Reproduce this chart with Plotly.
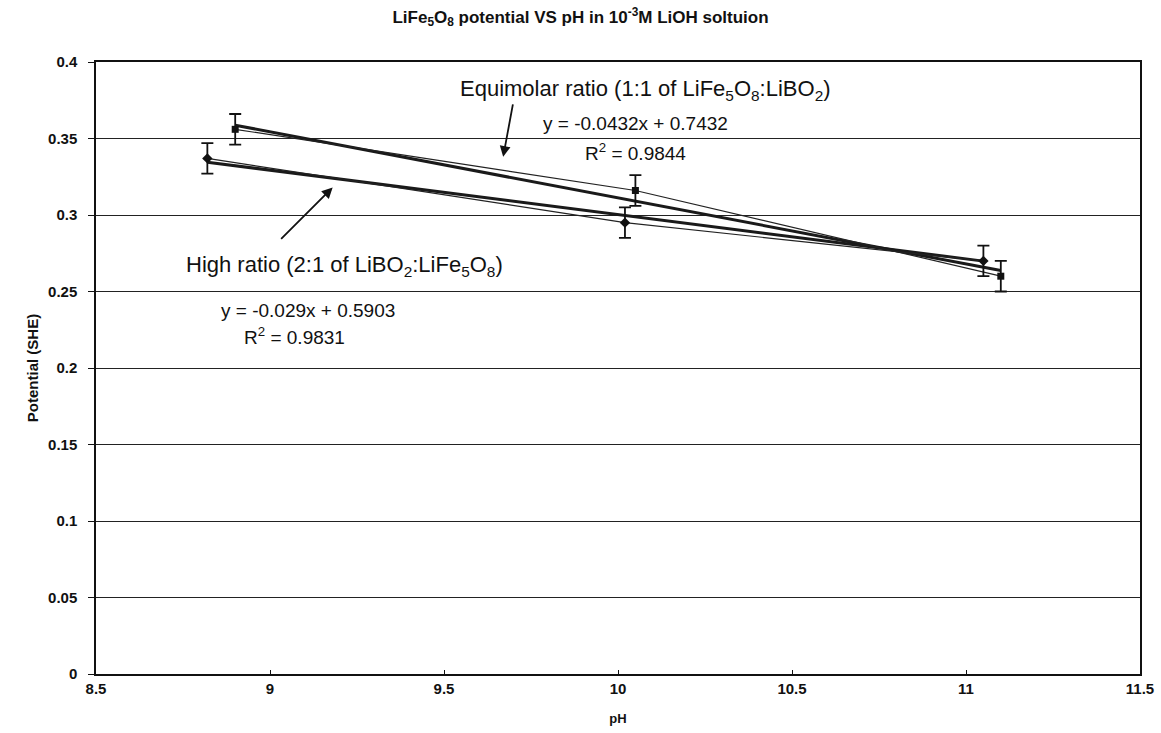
import numpy as np
import plotly.graph_objects as go

# ---- data ----
ph_equi = [8.9, 10.05, 11.1]
pot_equi = [0.356, 0.316, 0.260]
err_equi = [0.010, 0.010, 0.010]

ph_high = [8.82, 10.02, 11.05]
pot_high = [0.337, 0.295, 0.270]
err_high = [0.010, 0.010, 0.010]

fit_equi = [-0.0432, 0.7432]   # slope, intercept
fit_high = [-0.029, 0.5903]
r2_equi = 0.9844
r2_high = 0.9831

x_ticks = [8.5, 9, 9.5, 10, 10.5, 11, 11.5]
y_ticks = [0, 0.05, 0.1, 0.15, 0.2, 0.25, 0.3, 0.35, 0.4]

FONT = "Liberation Sans, Arial, sans-serif"

fig = go.Figure()

def trend(xs, coef):
    xx = np.array([min(xs), max(xs)])
    return xx, coef[0] * xx + coef[1]

# trendlines (thick)
for xs, coef in [(ph_equi, fit_equi), (ph_high, fit_high)]:
    tx, ty = trend(xs, coef)
    fig.add_trace(go.Scatter(x=tx, y=ty, mode="lines",
                             line=dict(color="#1a1a1a", width=3),
                             showlegend=False, hoverinfo="skip"))

# data series (thin line + markers + error bars)
fig.add_trace(go.Scatter(
    x=ph_equi, y=pot_equi, mode="lines+markers", name="Equimolar",
    line=dict(color="#222222", width=1.2),
    marker=dict(symbol="square", size=7, color="#111111"),
    error_y=dict(type="data", array=err_equi, visible=True,
                 color="#111111", thickness=1.8, width=6),
    showlegend=False))
fig.add_trace(go.Scatter(
    x=ph_high, y=pot_high, mode="lines+markers", name="High ratio",
    line=dict(color="#222222", width=1.2),
    marker=dict(symbol="diamond", size=8, color="#111111"),
    error_y=dict(type="data", array=err_high, visible=True,
                 color="#111111", thickness=1.8, width=6),
    showlegend=False))

ann = []
txt_font = dict(family=FONT, size=22, color="#111111")
eq_font = dict(family=FONT, size=19, color="#111111")
ann.append(dict(x=10.078, y=0.3817, xref="x", yref="y", showarrow=False,
                text="Equimolar ratio (1:1 of LiFe<sub>5</sub>O<sub>8</sub>:LiBO<sub>2</sub>)",
                font=txt_font, xanchor="center", yanchor="middle"))
ann.append(dict(x=10.05, y=0.360, xref="x", yref="y", showarrow=False,
                text="y = %.4fx + %.4f" % (fit_equi[0], fit_equi[1]),
                font=eq_font, xanchor="center", yanchor="middle"))
ann.append(dict(x=10.05, y=0.3412, xref="x", yref="y", showarrow=False,
                text="R<sup>2</sup> = %.4f" % r2_equi,
                font=eq_font, xanchor="center", yanchor="middle"))
ann.append(dict(x=9.215, y=0.2667, xref="x", yref="y", showarrow=False,
                text="High ratio (2:1 of LiBO<sub>2</sub>:LiFe<sub>5</sub>O<sub>8</sub>)",
                font=txt_font, xanchor="center", yanchor="middle"))
ann.append(dict(x=9.11, y=0.2379, xref="x", yref="y", showarrow=False,
                text="y = %.3fx + %.4f" % (fit_high[0], fit_high[1]),
                font=eq_font, xanchor="center", yanchor="middle"))
ann.append(dict(x=9.07, y=0.2209, xref="x", yref="y", showarrow=False,
                text="R<sup>2</sup> = %.4f" % r2_high,
                font=eq_font, xanchor="center", yanchor="middle"))
# arrows
ann.append(dict(x=9.67, y=0.338, xref="x", yref="y", ax=10, ay=-54,
                showarrow=True, arrowhead=2, arrowsize=1.2, arrowwidth=1.8,
                arrowcolor="#111111", text=""))
ann.append(dict(x=9.18, y=0.318, xref="x", yref="y", ax=-53, ay=53,
                showarrow=True, arrowhead=2, arrowsize=1.2, arrowwidth=1.8,
                arrowcolor="#111111", text=""))

fig.update_layout(
    width=1161, height=733,
    margin=dict(l=96, r=21, t=62, b=59),
    paper_bgcolor="white", plot_bgcolor="white",
    font=dict(family=FONT, color="#111111"),
    title=dict(text="<b>LiFe<sub>5</sub>O<sub>8</sub> potential VS pH in 10<sup>-3</sup>M LiOH soltuion</b>",
               x=0.5, xanchor="center", y=0.985, yanchor="top",
               font=dict(family=FONT, size=17, color="#111111")),
    annotations=ann,
    xaxis=dict(range=[8.5, 11.5], tickvals=x_ticks,
               ticktext=["<b>%g</b>" % v for v in x_ticks],
               showgrid=False, zeroline=False, showline=True, mirror=True,
               linecolor="#111111", linewidth=1.5, automargin=False,
               ticks="inside", ticklen=4, tickcolor="#111111",
               tickfont=dict(family=FONT, size=15, color="#111111"),
               title=dict(text="<b>pH</b>", standoff=18,
                          font=dict(family=FONT, size=13, color="#111111"))),
    yaxis=dict(range=[0, 0.4], tickvals=y_ticks,
               ticktext=["<b>%g</b>" % v for v in y_ticks],
               showgrid=True, gridcolor="#222222", gridwidth=1.3,
               zeroline=False, showline=True, mirror=True,
               linecolor="#111111", linewidth=1.5, automargin=False,
               ticks="outside", ticklen=6, tickcolor="#111111",
               ticklabelstandoff=8,
               tickfont=dict(family=FONT, size=15, color="#111111"),
               title=dict(text="<b>Potential (SHE)</b>", standoff=6,
                          font=dict(family=FONT, size=15, color="#111111"))),
)

fig.write_html("out.html")
